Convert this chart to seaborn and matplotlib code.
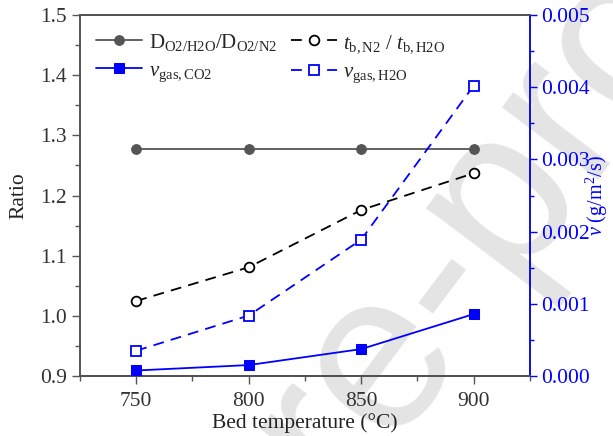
import matplotlib
matplotlib.use("Agg")
import matplotlib.pyplot as plt
from matplotlib.ticker import MultipleLocator, FormatStrFormatter
from matplotlib.font_manager import FontProperties
import numpy as np
import seaborn as sns
import pandas as pd

# Bed temperature (°C)
temperature = [750, 800, 850, 900]
# Ratio series (left axis)
d_ratio = [1.277, 1.277, 1.277, 1.277]
t_ratio = [1.025, 1.081, 1.176, 1.237]
# Gasification rates (right axis, g/m2/s)
v_co2 = [0.00008, 0.000155, 0.000376, 0.00086]
v_h2o = [0.000353, 0.00084, 0.00189, 0.00402]

sns.set_theme(style="white")
plt.rcParams["font.family"] = ["Liberation Serif", "DejaVu Serif"]
plt.rcParams["mathtext.fontset"] = "custom"
plt.rcParams["mathtext.rm"] = "Liberation Serif"
plt.rcParams["mathtext.it"] = "Liberation Serif:italic"

df = pd.DataFrame({"T": temperature, "D": d_ratio, "t": t_ratio,
                   "co2": v_co2, "h2o": v_h2o})

DPI = 100
fig = plt.figure(figsize=(6.13, 4.36), dpi=DPI)
ax = fig.add_axes([0.1305, 0.137, 0.734, 0.829])
ax2 = ax.twinx()
ax.set_facecolor("none")
ax2.set_facecolor("none")

# faint diagonal watermark behind the plot, placed so that the "e" of
# "Pre" is centred on a chosen pixel
wm_text = "Journal Pre-proof"
wm_size = 163
wm_angle = 53.0
wm_font = FontProperties(family="Liberation Sans", size=wm_size)
renderer = fig.canvas.get_renderer()
w_a = renderer.get_text_width_height_descent("Journal Pr", wm_font, ismath=False)[0]
w_b = renderer.get_text_width_height_descent("Journal Pre", wm_font, ismath=False)[0]
em = wm_size * DPI / 72.0
along = 0.5 * (w_a + w_b)
rad = np.deg2rad(wm_angle)
u = np.array([np.cos(rad), np.sin(rad)])
n = np.array([-np.sin(rad), np.cos(rad)])
target = np.array([383.0, 436.0 - 367.0])
start = target - along * u - 0.26 * em * n
fig.text(start[0] / 613.0, start[1] / 436.0, wm_text, fontproperties=wm_font,
         color="#e4e4e4", rotation=wm_angle, rotation_mode="anchor",
         ha="left", va="baseline", zorder=-1)

blue = "#0000ff"
grey = "#555555"

sns.lineplot(data=df, x="T", y="D", ax=ax, color=grey, marker="o",
             markersize=7, markeredgecolor=grey, linewidth=1.3, zorder=3)
sns.lineplot(data=df, x="T", y="t", ax=ax, color="black", marker="o",
             markersize=7, markerfacecolor="white", markeredgecolor="black",
             markeredgewidth=1.3, linewidth=1.3, linestyle=(0, (6, 4)), zorder=3)
sns.lineplot(data=df, x="T", y="co2", ax=ax2, color=blue, marker="s",
             markersize=7, markeredgecolor=blue, linewidth=1.3, zorder=3)
sns.lineplot(data=df, x="T", y="h2o", ax=ax2, color=blue, marker="s",
             markersize=6.5, markerfacecolor="white", markeredgecolor=blue,
             markeredgewidth=1.3, linewidth=1.3, linestyle=(0, (6, 4)), zorder=3)

ax.set_xlim(725, 925)
ax.set_ylim(0.9, 1.5)
ax2.set_ylim(0, 0.005)

ax.xaxis.set_major_locator(MultipleLocator(50))
ax.xaxis.set_minor_locator(MultipleLocator(25))
ax.yaxis.set_major_locator(MultipleLocator(0.1))
ax.yaxis.set_minor_locator(MultipleLocator(0.05))
ax.yaxis.set_major_formatter(FormatStrFormatter("%.1f"))
ax2.yaxis.set_major_locator(MultipleLocator(0.001))
ax2.yaxis.set_minor_locator(MultipleLocator(0.0005))
ax2.yaxis.set_major_formatter(FormatStrFormatter("%.3f"))

label_color = "#333333"
ax.tick_params(axis="both", which="major", direction="out", length=6,
               width=1, labelsize=15.5, color=grey, labelcolor=label_color)
ax.tick_params(axis="both", which="minor", direction="out", length=3.5,
               width=1, color=grey)
ax.tick_params(axis="x", pad=5)
ax.tick_params(left=True, bottom=True, which="both")
ax2.tick_params(axis="y", which="major", direction="out", length=5, width=1,
                labelsize=15.5, color=blue, labelcolor=blue, right=True, pad=3)
ax2.tick_params(axis="y", which="minor", direction="out", length=3,
                width=1, color=blue, right=True)

for sp in ax.spines.values():
    sp.set_color(grey)
    sp.set_linewidth(1.2)
for sp in ax2.spines.values():
    sp.set_linewidth(1.2)
    sp.set_color(grey)
ax2.spines["right"].set_color(blue)
ax.spines["top"].set_color("#222222")
ax.spines["bottom"].set_color("#222222")

ax.set_xlabel("Bed temperature (°C)", fontsize=15.5, color="#222222", labelpad=2)
ax.set_ylabel("Ratio", fontsize=15.5, color="#222222", labelpad=8)
ax2.set_ylabel(r"$v$ (g/m$^2$/s)", fontsize=14.5, color=blue, labelpad=-4)

handles = [ax.lines[0], ax2.lines[0], ax.lines[1], ax2.lines[1]]
labels = [r"D$_{\rm O2/H2O}$/D$_{\rm O2/N2}$",
          r"$v_{\rm gas,CO2}$",
          r"$t_{\rm b,N2}$ / $t_{\rm b,H2O}$",
          r"$v_{\rm gas,H2O}$"]
ax.legend(handles, labels, loc="upper left", ncol=2, frameon=False,
          fontsize=15, handlelength=2.2, handletextpad=0.3,
          columnspacing=0.7, labelspacing=0.4,
          bbox_to_anchor=(-0.005, 1.005))

fig.savefig("out.png", dpi=DPI)
